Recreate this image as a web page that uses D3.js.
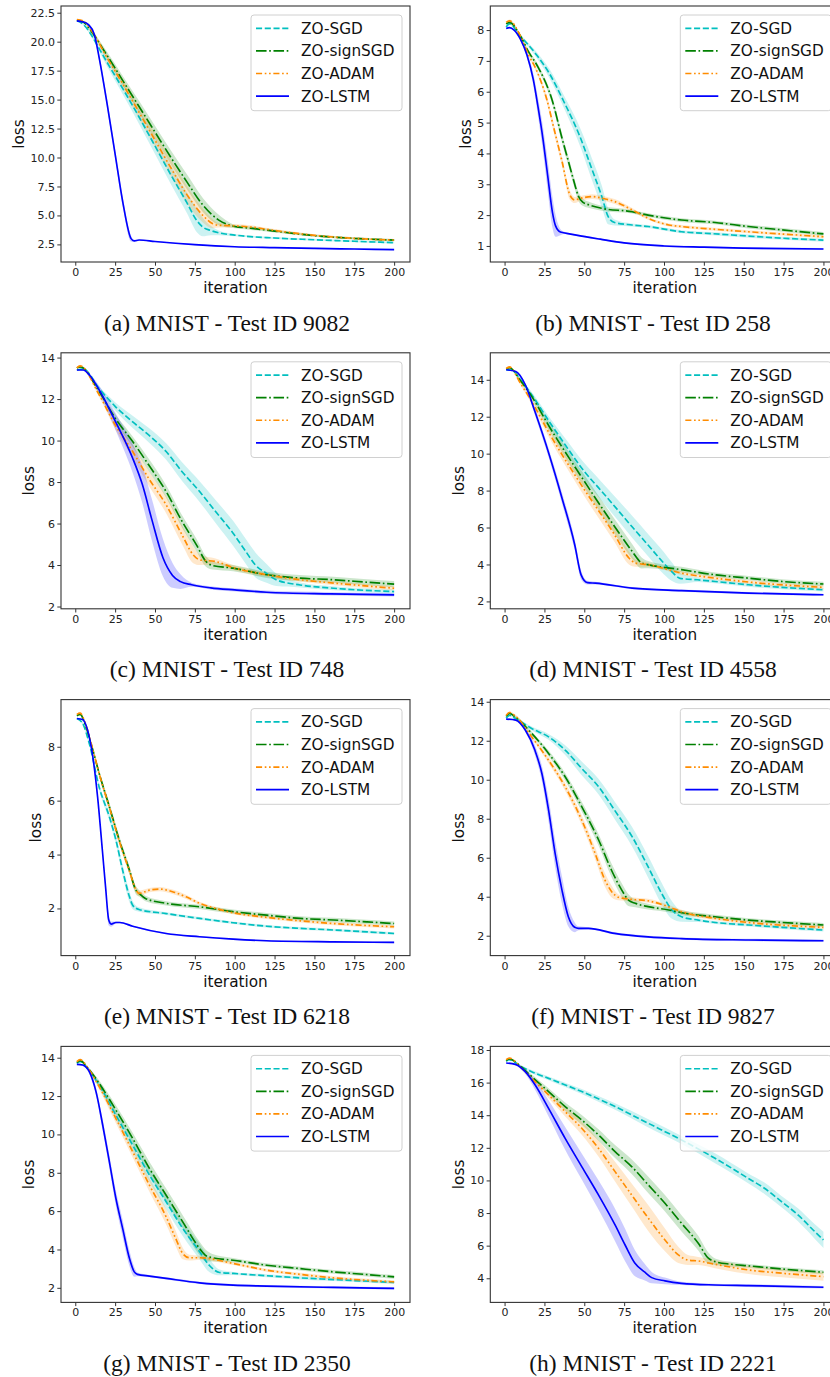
<!DOCTYPE html>
<html><head><meta charset="utf-8">
<script src="https://cdn.jsdelivr.net/npm/d3@7"></script>
<style>body{margin:0;background:#fff}svg{display:block}</style>
</head><body>
<svg id="chart" width="830" height="1377"></svg>
<script>
// ---------------- data ----------------
const SERIES_NAMES = ["ZO-SGD", "ZO-signSGD", "ZO-ADAM", "ZO-LSTM"];
const ITER_TICKS = [0, 25, 50, 75, 100, 125, 150, 175, 200];
const ITER_RANGE = [1, 200];
const CAPTIONS = [
  "(a) MNIST - Test ID 9082", "(b) MNIST - Test ID 258",
  "(c) MNIST - Test ID 748", "(d) MNIST - Test ID 4558",
  "(e) MNIST - Test ID 6218", "(f) MNIST - Test ID 9827",
  "(g) MNIST - Test ID 2350", "(h) MNIST - Test ID 2221"
];
const LOSS_LIMITS = [[0.98, 23.08], [0.48, 8.78], [1.89, 14.23], [1.6, 15.46],
                     [0.25, 9.75], [0.98, 14.11], [1.24, 14.59], [2.52, 18.22]];
const LOSS_TICKS = [
  [2.5, 5, 7.5, 10, 12.5, 15, 17.5, 20, 22.5],
  [1, 2, 3, 4, 5, 6, 7, 8],
  [2, 4, 6, 8, 10, 12, 14],
  [2, 4, 6, 8, 10, 12, 14],
  [2, 4, 6, 8],
  [2, 4, 6, 8, 10, 12, 14],
  [2, 4, 6, 8, 10, 12, 14],
  [4, 6, 8, 10, 12, 14, 16, 18]
];
const LOSS_TICK_FORMAT = [".1f", "d", "d", "d", "d", "d", "d", "d"];

// each entry: [iteration, mean loss, std band half-width]
const a_sgd  = [[1,21.8,0],[5,21.5,0.05],[10,20.6,0.15],[15,19.4,0.25],[20,18.2,0.35],[30,15.9,0.5],[40,13.5,0.6],[50,11.0,0.7],[60,8.5,0.8],[70,6.1,0.9],[76,4.6,1.0],[80,4.0,0.8],[85,3.7,0.4],[90,3.5,0.2],[100,3.3,0.1],[125,3.05,0.08],[150,2.9,0.08],[175,2.77,0.08],[200,2.65,0.08]];
const a_sign = [[1,21.85,0],[5,21.7,0.05],[10,20.9,0.15],[20,18.8,0.3],[30,16.6,0.4],[40,14.4,0.5],[50,12.2,0.55],[60,10.0,0.6],[70,7.9,0.65],[80,5.9,0.6],[90,4.6,0.45],[96,4.2,0.25],[100,4.05,0.15],[110,3.9,0.15],[125,3.65,0.12],[150,3.25,0.1],[175,3.02,0.1],[200,2.87,0.1]];
const a_adam = [[1,21.9,0],[5,21.8,0.05],[10,21.0,0.15],[20,18.6,0.3],[30,16.3,0.45],[40,13.9,0.55],[50,11.5,0.6],[60,9.1,0.7],[70,6.8,0.75],[80,5.0,0.6],[86,4.3,0.4],[90,4.15,0.2],[100,4.1,0.15],[110,4.0,0.15],[125,3.7,0.12],[150,3.28,0.1],[175,3.02,0.1],[200,2.87,0.1]];
const a_lstm = [[1,21.8,0],[5,21.7,0.05],[8,21.5,0.1],[12,20.6,0.2],[15,18.6,0.3],[20,14.6,0.4],[25,10.3,0.4],[30,6.0,0.4],[35,3.0,0.25],[37,2.8,0.1],[40,2.88,0.05],[50,2.75,0.05],[75,2.48,0.05],[100,2.3,0.05],[125,2.22,0.05],[150,2.15,0.05],[175,2.1,0.05],[200,2.05,0.05]];

const b_sgd  = [[1,8.1,0],[3,8.2,0.03],[10,7.8,0.05],[20,7.2,0.1],[28,6.6,0.15],[37,5.7,0.2],[48,4.45,0.3],[54,3.6,0.35],[61,2.6,0.35],[65,1.95,0.25],[69,1.76,0.1],[80,1.68,0.05],[90,1.63,0.05],[111,1.46,0.05],[130,1.4,0.05],[153,1.32,0.05],[175,1.25,0.05],[200,1.19,0.05]];
const b_sign = [[1,8.2,0],[3,8.25,0.04],[10,7.8,0.05],[15,7.3,0.06],[21,6.8,0.08],[30,5.7,0.12],[36,4.5,0.15],[40,3.75,0.15],[44,3.0,0.15],[46,2.65,0.15],[49,2.42,0.12],[53,2.33,0.1],[61,2.22,0.08],[80,2.11,0.06],[90,2.0,0.06],[111,1.84,0.06],[132,1.76,0.06],[153,1.63,0.06],[174,1.52,0.06],[200,1.39,0.06]];
const b_adam = [[1,8.25,0],[3,8.3,0.04],[10,7.8,0.05],[15,7.2,0.06],[20,6.7,0.08],[26.5,5.75,0.12],[31,4.8,0.15],[36,3.75,0.15],[41,2.65,0.15],[44,2.49,0.1],[48,2.55,0.08],[55,2.6,0.08],[61,2.55,0.08],[69,2.44,0.08],[80,2.17,0.06],[90,1.9,0.05],[103,1.68,0.05],[111,1.63,0.05],[132,1.54,0.05],[153,1.46,0.05],[200,1.3,0.05]];
const b_lstm = [[1,8.05,0],[3,8.08,0.02],[6,8.0,0.03],[10,7.7,0.05],[14,7.2,0.1],[18,6.4,0.2],[21,5.5,0.3],[24,4.5,0.4],[27,3.3,0.5],[30,2.1,0.5],[32,1.65,0.35],[35,1.45,0.1],[37,1.43,0.04],[45,1.35,0.03],[60,1.22,0.03],[75,1.1,0.03],[100,1.0,0.03],[125,0.96,0.03],[150,0.93,0.03],[200,0.9,0.03]];

const c_sgd  = [[1,13.4,0],[5,13.45,0.03],[15,12.5,0.1],[25,11.65,0.2],[36,10.9,0.3],[46,10.27,0.35],[57,9.47,0.4],[67,8.5,0.45],[78,7.54,0.5],[88,6.58,0.55],[99,5.53,0.6],[107,4.65,0.6],[113,4.0,0.6],[120,3.6,0.45],[126,3.29,0.3],[141,3.04,0.12],[162,2.88,0.1],[200,2.72,0.1]];
const c_sign = [[1,13.5,0],[3,13.55,0.05],[15,12.36,0.1],[25,11.08,0.2],[36,9.95,0.25],[46,8.83,0.3],[57,7.54,0.3],[67,6.1,0.3],[76,4.97,0.3],[82,4.17,0.25],[86,3.98,0.2],[99,3.85,0.15],[120,3.53,0.15],[141,3.37,0.15],[162,3.29,0.15],[183,3.17,0.15],[200,3.08,0.15]];
const c_adam = [[1,13.5,0],[3,13.6,0.05],[15,12.2,0.1],[25,10.76,0.2],[36,9.47,0.3],[46,8.18,0.35],[57,6.9,0.4],[67,5.45,0.45],[74,4.49,0.4],[78,4.25,0.25],[88,4.17,0.15],[99,3.88,0.12],[120,3.53,0.1],[141,3.29,0.1],[162,3.13,0.1],[200,2.88,0.1]];
const c_lstm = [[1,13.4,0],[5,13.4,0.03],[9,13.15,0.08],[15,12.44,0.2],[25,10.95,0.4],[36,9.15,0.7],[42,7.9,0.9],[48,6.2,1.0],[55,4.35,0.9],[61,3.5,0.6],[66,3.2,0.35],[73,3.05,0.1],[85,2.9,0.08],[100,2.8,0.08],[120,2.69,0.08],[160,2.61,0.08],[200,2.56,0.08]];

const d_sgd  = [[1,14.55,0],[5,14.5,0.05],[10,14.0,0.1],[17,13.19,0.15],[28,11.74,0.25],[38,10.48,0.35],[50,9.04,0.45],[60,8.05,0.5],[70,7.05,0.55],[80,6.04,0.6],[90,5.05,0.6],[100,4.06,0.6],[105,3.6,0.5],[110,3.25,0.3],[121,3.17,0.12],[132,3.08,0.1],[153,2.9,0.1],[174,2.76,0.1],[200,2.63,0.1]];
const d_sign = [[1,14.6,0],[3,14.65,0.05],[10,13.95,0.1],[17,13.1,0.15],[28,11.47,0.25],[48,8.77,0.35],[69,6.06,0.4],[80,4.71,0.4],[86,4.08,0.3],[90,3.99,0.2],[111,3.72,0.15],[132,3.44,0.12],[153,3.26,0.12],[174,3.08,0.12],[200,2.94,0.12]];
const d_adam = [[1,14.6,0],[3,14.7,0.05],[10,13.8,0.1],[17,12.83,0.15],[28,11.11,0.25],[48,8.32,0.35],[69,5.61,0.4],[78,4.35,0.35],[82,4.08,0.2],[90,3.99,0.12],[111,3.53,0.1],[132,3.26,0.1],[153,3.05,0.1],[200,2.76,0.1]];
const d_lstm = [[1,14.54,0],[7,14.45,0.05],[13,13.73,0.1],[19,12.29,0.2],[28,9.94,0.25],[36,7.6,0.3],[44,5.07,0.3],[48,3.44,0.25],[52,3.02,0.1],[57,2.99,0.08],[80,2.72,0.06],[111,2.58,0.06],[153,2.45,0.06],[200,2.36,0.06]];

const e_sgd  = [[1,9.05,0],[4.6,8.87,0.05],[8.8,8.12,0.08],[15,6.5,0.12],[21.4,5.4,0.15],[25.5,4.54,0.17],[29.7,3.42,0.2],[34,2.43,0.2],[36,2.12,0.15],[40,1.96,0.08],[57,1.81,0.05],[78,1.63,0.05],[99,1.47,0.05],[120,1.34,0.05],[141,1.26,0.05],[162,1.2,0.05],[183,1.13,0.05],[200,1.07,0.05]];
const e_sign = [[1,9.15,0],[3,9.2,0.05],[6.7,8.74,0.08],[11,7.88,0.1],[15,7.01,0.12],[21.4,5.77,0.15],[27.6,4.54,0.15],[34,3.42,0.15],[38,2.68,0.15],[40,2.56,0.12],[44,2.37,0.1],[57,2.19,0.08],[78,2.06,0.08],[99,1.88,0.08],[120,1.75,0.08],[141,1.63,0.08],[162,1.57,0.08],[183,1.5,0.08],[200,1.44,0.08]];
const e_adam = [[1,9.2,0],[3,9.25,0.05],[6.7,8.8,0.08],[11,7.9,0.1],[15,7.0,0.1],[21.4,5.75,0.12],[27.6,4.5,0.12],[34,3.38,0.12],[38,2.7,0.12],[40,2.56,0.1],[46.5,2.68,0.08],[53,2.72,0.08],[61,2.62,0.08],[69.5,2.43,0.08],[78,2.19,0.06],[88,2.0,0.06],[99,1.84,0.06],[120,1.67,0.06],[141,1.54,0.06],[162,1.44,0.06],[200,1.32,0.06]];
const e_lstm = [[1,9.05,0],[4.6,9.01,0.03],[7.7,8.62,0.05],[11,7.63,0.08],[14,6.14,0.1],[17,4.16,0.12],[19,2.8,0.15],[21,1.57,0.2],[22.5,1.42,0.1],[25.5,1.48,0.04],[28,1.48,0.03],[36,1.34,0.03],[57,1.07,0.03],[78,0.95,0.03],[99,0.86,0.03],[120,0.8,0.03],[162,0.76,0.03],[200,0.74,0.03]];

const f_sgd  = [[1,13.15,0],[3,13.3,0.03],[6.7,13.15,0.05],[17,12.63,0.1],[27.6,12.2,0.15],[38,11.52,0.25],[48.4,10.58,0.35],[59,9.64,0.4],[69,8.44,0.45],[80,7.08,0.5],[90,5.54,0.55],[98.5,4.17,0.55],[105,3.32,0.45],[111,2.97,0.25],[121.5,2.8,0.1],[132,2.68,0.08],[153,2.55,0.08],[174,2.43,0.08],[200,2.29,0.08]];
const f_sign = [[1,13.25,0],[3,13.4,0.05],[7,13.2,0.08],[17,12.38,0.1],[27.6,11.35,0.15],[38,10.15,0.2],[48.4,8.62,0.25],[59,6.91,0.3],[67,5.37,0.35],[73.5,4.34,0.35],[77.7,3.83,0.3],[82,3.66,0.2],[90,3.49,0.15],[103,3.32,0.12],[111,3.18,0.12],[132,2.97,0.1],[153,2.8,0.1],[174,2.68,0.1],[200,2.55,0.1]];
const f_adam = [[1,13.3,0],[3,13.45,0.05],[7,13.25,0.08],[17,12.2,0.1],[27.6,11.0,0.15],[38,9.64,0.2],[48.4,7.93,0.25],[56.8,6.22,0.3],[63,4.85,0.35],[67.2,4.26,0.3],[71.4,3.97,0.15],[78,3.88,0.1],[90,3.79,0.1],[102.7,3.49,0.1],[111,3.23,0.1],[132,2.89,0.1],[153,2.68,0.1],[200,2.43,0.1]];
const f_lstm = [[1,13.11,0],[7,13.06,0.05],[13,12.55,0.1],[19,11.52,0.25],[23.4,10.32,0.4],[27.6,8.44,0.6],[31.7,6.22,0.7],[36,4.34,0.7],[40,2.97,0.5],[44,2.43,0.25],[46.3,2.38,0.1],[52.6,2.38,0.06],[69,2.12,0.06],[90,1.94,0.06],[111,1.85,0.06],[153,1.78,0.06],[200,1.74,0.06]];

const g_sgd  = [[1,13.7,0],[3,13.8,0.05],[8,13.4,0.08],[15,12.57,0.15],[25.5,11.0,0.25],[36,9.44,0.3],[46.5,7.88,0.35],[57,6.49,0.4],[67.4,5.1,0.4],[78,3.88,0.4],[84,3.18,0.35],[90.5,2.8,0.15],[99,2.75,0.08],[120,2.63,0.08],[141,2.52,0.08],[162,2.43,0.08],[200,2.28,0.08]];
const g_sign = [[1,13.75,0],[3,13.85,0.05],[8,13.45,0.08],[15,12.66,0.15],[25.5,11.27,0.25],[36,9.79,0.3],[46.5,8.23,0.35],[57,6.83,0.35],[67.4,5.44,0.35],[78,4.05,0.35],[82,3.67,0.3],[86,3.57,0.2],[99,3.44,0.12],[120,3.18,0.1],[141,3.0,0.1],[162,2.83,0.1],[183,2.69,0.1],[200,2.57,0.1]];
const g_adam = [[1,13.8,0],[3,13.9,0.05],[8,13.45,0.08],[15,12.49,0.15],[25.5,10.83,0.25],[36,9.1,0.3],[46.5,7.36,0.35],[57,5.7,0.4],[63,4.57,0.4],[67.4,3.79,0.3],[71.6,3.57,0.15],[78,3.57,0.1],[99,3.27,0.08],[120,2.92,0.08],[141,2.7,0.08],[162,2.52,0.08],[200,2.31,0.08]];
const g_lstm = [[1,13.65,0],[4.6,13.62,0.05],[8.8,13.27,0.1],[13,12.23,0.2],[17.2,10.49,0.3],[21.4,8.57,0.35],[25.5,6.66,0.4],[29.7,5.1,0.45],[34,3.53,0.4],[37,2.83,0.25],[39,2.7,0.1],[46.5,2.61,0.06],[57,2.49,0.06],[78,2.26,0.06],[99,2.14,0.06],[120,2.09,0.06],[162,2.02,0.06],[200,1.97,0.06]];

const h_sgd  = [[1,17.3,0],[3,17.4,0.05],[10,17.0,0.08],[17,16.67,0.1],[27.6,16.26,0.12],[48.4,15.45,0.15],[69.3,14.53,0.2],[90.2,13.5,0.25],[111,12.48,0.25],[132,11.36,0.3],[152.8,10.13,0.3],[163,9.52,0.35],[173.7,8.7,0.35],[184,7.89,0.4],[194.6,6.86,0.45],[200,6.35,0.5]];
const h_sign = [[1,17.35,0],[3,17.45,0.05],[10,17.0,0.08],[17,16.37,0.12],[27.6,15.45,0.2],[38,14.53,0.25],[48.4,13.71,0.3],[58.9,12.79,0.35],[69.3,11.77,0.4],[79.7,10.85,0.45],[90.2,9.72,0.5],[100.6,8.6,0.5],[111,7.37,0.5],[121.5,6.15,0.45],[127.8,5.23,0.35],[132,5.02,0.2],[142,4.86,0.15],[153,4.76,0.12],[174,4.57,0.12],[200,4.37,0.12]];
const h_adam = [[1,17.4,0],[3,17.5,0.05],[10,16.95,0.08],[17,16.26,0.12],[27.6,15.24,0.2],[38,14.22,0.3],[48.4,13.2,0.4],[58.9,11.97,0.5],[69.3,10.54,0.6],[79.7,9.11,0.7],[90.2,7.68,0.8],[100.6,6.35,0.7],[109,5.43,0.5],[115,5.12,0.3],[121.5,5.06,0.25],[132,4.86,0.25],[153,4.51,0.25],[174,4.31,0.25],[200,4.1,0.25]];
const h_lstm = [[1,17.2,0],[6.7,17.12,0.05],[13,16.67,0.15],[19.2,15.85,0.3],[27.6,14.42,0.5],[38,12.58,0.7],[48.4,10.85,0.8],[58.9,9.11,0.9],[69.3,7.27,1.0],[75.6,6.04,1.0],[81.8,4.92,0.8],[88,4.37,0.5],[92.3,4.04,0.35],[100.6,3.84,0.2],[111,3.69,0.1],[132,3.59,0.08],[153,3.55,0.08],[200,3.45,0.08]];

const PANEL_SERIES = [
  [a_sgd, a_sign, a_adam, a_lstm], [b_sgd, b_sign, b_adam, b_lstm],
  [c_sgd, c_sign, c_adam, c_lstm], [d_sgd, d_sign, d_adam, d_lstm],
  [e_sgd, e_sign, e_adam, e_lstm], [f_sgd, f_sign, f_adam, f_lstm],
  [g_sgd, g_sign, g_adam, g_lstm], [h_sgd, h_sign, h_adam, h_lstm]
];

// ---------------- styles ----------------
const LW = 1.65;
const STYLES = [
  {color: "#00bfbf", dash: [3.7*LW, 1.6*LW].join(",")},
  {color: "#008000", dash: [6.4*LW, 1.6*LW, 1*LW, 1.6*LW].join(",")},
  {color: "#ff8c00", dash: [3.7*LW, 1.6*LW, 1*LW, 1.6*LW, 1*LW, 1.6*LW].join(",")},
  {color: "#0000ff", dash: null}
];
const SANS = "'DejaVu Sans', sans-serif";
const SERIF = "'Liberation Serif', 'Times New Roman', serif";
const W = 349, H = 256;
const COL_LEFT = [61, 490.3];
const CAPTION_X = [227, 653];
const ROW_TOP = 6, ROW_STEP = 346.8;
const FRAME = "#333";

const svg = d3.select("#chart");
const pad = (ITER_RANGE[1] - ITER_RANGE[0]) * 0.05;

PANEL_SERIES.forEach((series, i) => {
  const col = i % 2, row = Math.floor(i / 2);
  const left = COL_LEFT[col], top = ROW_TOP + row * ROW_STEP;
  const x = d3.scaleLinear().domain([ITER_RANGE[0] - pad, ITER_RANGE[1] + pad]).range([0, W]);
  const y = d3.scaleLinear().domain(LOSS_LIMITS[i]).range([H, 0]);
  const g = svg.append("g").attr("transform", `translate(${left},${top})`);

  const clipId = "clip" + i;
  g.append("clipPath").attr("id", clipId).append("rect").attr("width", W).attr("height", H);
  const plot = g.append("g").attr("clip-path", `url(#${clipId})`);

  const area = d3.area().x(d => x(d[0])).y0(d => y(d[1] - d[2])).y1(d => y(d[1] + d[2])).curve(d3.curveMonotoneX);
  const line = d3.line().x(d => x(d[0])).y(d => y(d[1])).curve(d3.curveMonotoneX);
  series.forEach((s, k) => {
    const st = STYLES[k];
    plot.append("path").attr("d", area(s)).attr("fill", st.color).attr("fill-opacity", 0.2).attr("stroke", "none");
  });
  series.forEach((s, k) => {
    const st = STYLES[k];
    const p = plot.append("path").attr("d", line(s)).attr("fill", "none")
      .attr("stroke", st.color).attr("stroke-width", LW).attr("stroke-linejoin", "round");
    if (st.dash) p.attr("stroke-dasharray", st.dash);
  });

  // axes
  const xAxis = d3.axisBottom(x).tickValues(ITER_TICKS).tickSizeInner(3.7).tickSizeOuter(0).tickPadding(2.5).tickFormat(d3.format("d"));
  const yAxis = d3.axisLeft(y).tickValues(LOSS_TICKS[i]).tickSizeInner(3.7).tickSizeOuter(0).tickPadding(2.3).tickFormat(d3.format(LOSS_TICK_FORMAT[i]));
  const gx = g.append("g").attr("transform", `translate(0,${H})`).call(xAxis);
  const gy = g.append("g").call(yAxis);
  [gx, gy].forEach(ax => {
    ax.select(".domain").remove();
    ax.selectAll(".tick line").attr("stroke", FRAME).attr("stroke-width", 1);
    ax.selectAll(".tick text").attr("fill", "#222").style("font-family", SANS).style("font-size", "11px");
  });
  g.append("rect").attr("width", W).attr("height", H).attr("fill", "none").attr("stroke", FRAME).attr("stroke-width", 1.1);

  // axis labels
  g.append("text").attr("x", W / 2).attr("y", H + 31).attr("text-anchor", "middle")
    .style("font-family", SANS).style("font-size", "15.3px").attr("fill", "#111").text("iteration");
  let maxW = 0;
  gy.selectAll(".tick text").each(function () { maxW = Math.max(maxW, this.getBBox().width); });
  const lx = -3.7 - 2.3 - maxW - 6.7;
  g.append("text").attr("transform", `translate(${lx},${H / 2}) rotate(-90)`).attr("text-anchor", "middle")
    .style("font-family", SANS).style("font-size", "15.3px").attr("fill", "#111").text("loss");

  // legend
  const lg = g.append("g").attr("transform", `translate(${W - 8 - 151},9)`);
  lg.append("rect").attr("width", 151).attr("height", 95.7).attr("rx", 3).attr("ry", 3)
    .attr("fill", "#fff").attr("fill-opacity", 0.8).attr("stroke", "#d0d0d0").attr("stroke-width", 1);
  SERIES_NAMES.forEach((name, k) => {
    const st = STYLES[k];
    const yy = 13.3 + k * 22.6;
    const l = lg.append("line").attr("x1", 5).attr("x2", 38).attr("y1", yy).attr("y2", yy)
      .attr("stroke", st.color).attr("stroke-width", LW);
    if (st.dash) l.attr("stroke-dasharray", st.dash);
    lg.append("text").attr("x", 50).attr("y", yy).attr("dy", "0.36em")
      .style("font-family", SANS).style("font-size", "15.3px").attr("fill", "#111").text(name);
  });

  // caption
  svg.append("text").attr("x", CAPTION_X[col]).attr("y", top + H + 68.5).attr("text-anchor", "middle")
    .style("font-family", SERIF).style("font-size", "23.5px").attr("fill", "#111").text(CAPTIONS[i]);
});
</script>
</body></html>
